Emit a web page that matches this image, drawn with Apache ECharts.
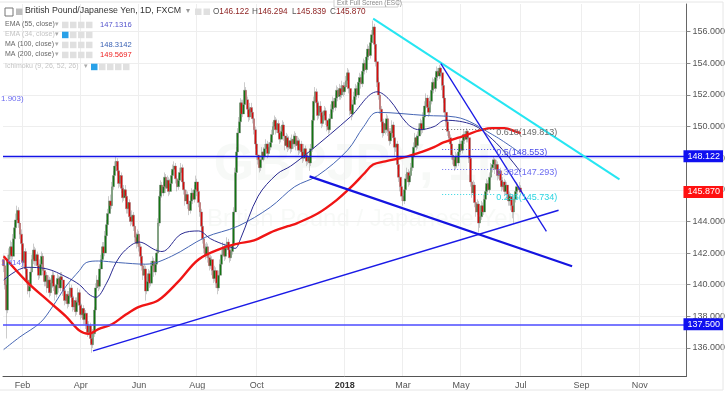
<!DOCTYPE html>
<html><head><meta charset="utf-8">
<script src="https://cdn.jsdelivr.net/npm/echarts@6/dist/echarts.min.js"></script>
<style>html,body{margin:0;padding:0;background:#fff}#c{width:728px;height:393px}</style>
</head><body><div id="c"></div><script>
// ---------- DATA ----------
const firstDay = '2017-01-12';
const lastDay = '2018-12-19';
const tickMonths = ['2017-02','2017-04','2017-06','2017-08','2017-10','2018-01','2018-03','2018-05','2018-07','2018-09','2018-11'];
const tickLabels = ['Feb','Apr','Jun','Aug','Oct','2018','Mar','May','Jul','Sep','Nov'];
const yTicks = [136,138,140,142,144,146,148,150,152,154,156];
const firstOpen = 141.6;
const closes = [
141.2,140.0,138.4,141.6,141.9,142.4,141.8,142.9,143.6,144.1,
144.7,143.9,143.2,142.6,141.4,142.1,141.0,140.3,139.6,139.9,
140.8,141.6,142.2,141.5,141.9,141.2,140.6,141.3,141.8,140.9,
140.2,140.6,139.8,140.3,139.5,140.1,140.6,139.9,139.4,140.0,
140.4,139.8,140.5,140.3,139.6,139.0,139.4,138.8,139.3,139.8,
139.2,138.6,139.0,138.3,138.9,139.5,138.7,138.1,138.5,137.8,
138.2,137.5,137.0,137.4,136.6,136.2,136.9,138.4,139.8,140.3,
139.9,141.0,141.6,142.4,142.0,143.1,143.8,144.5,145.3,145.0,
146.2,146.9,147.5,147.8,147.2,146.4,146.9,146.1,145.5,146.0,
145.6,144.8,145.2,144.3,144.0,144.4,143.7,143.0,142.6,143.2,
142.4,141.8,141.2,140.6,141.0,139.6,140.2,140.7,140.1,141.2,
141.5,140.8,141.3,142.0,143.9,145.6,146.3,145.8,146.2,146.8,
146.1,146.6,145.9,146.4,146.9,147.3,147.5,146.7,146.2,146.6,
147.1,147.4,146.5,146.0,145.3,145.7,145.1,144.7,145.3,145.8,
145.4,146.0,146.5,145.9,145.2,144.6,143.7,142.9,142.3,141.9,
142.4,141.7,141.2,141.6,140.9,140.4,140.9,140.1,139.8,140.6,
141.3,141.9,142.4,141.8,142.3,142.7,142.2,141.7,142.1,142.5,
144.6,147.1,148.4,149.6,150.3,151.5,150.8,151.4,152.3,151.7,
151.1,150.6,151.2,150.9,150.5,149.8,148.9,148.2,147.9,147.4,
147.9,148.4,148.1,148.6,148.9,148.3,148.7,149.0,149.5,150.0,
150.4,149.8,150.2,149.6,149.2,149.7,150.1,149.4,148.8,149.3,
148.7,149.1,148.6,149.2,148.9,149.4,148.8,149.1,148.5,148.9,
148.4,148.0,148.6,148.2,147.8,148.1,147.7,148.6,150.4,151.6,
152.2,151.5,150.7,151.3,150.9,150.2,150.7,151.0,150.4,150.0,
149.8,150.5,151.1,151.6,151.2,151.8,152.3,151.9,152.4,152.0,
152.6,152.2,152.5,152.9,153.4,152.4,151.0,150.8,151.4,151.9,
152.4,152.0,152.8,153.1,152.7,153.5,154.0,153.6,154.4,154.9,
154.5,155.3,155.8,156.3,155.2,154.1,152.8,152.0,151.1,150.3,
149.6,150.2,149.8,150.5,149.7,149.1,149.6,150.1,149.3,148.7,
148.9,147.6,146.8,146.2,145.6,145.3,146.0,146.7,147.1,146.5,
146.9,147.4,148.1,148.7,149.3,148.8,149.4,149.9,150.2,149.8,
150.6,151.3,151.8,151.2,150.9,151.6,152.3,152.8,152.4,153.1,
153.5,153.2,153.7,153.4,152.6,151.8,150.9,150.3,149.7,149.3,
148.9,148.2,147.9,147.5,148.1,147.7,148.4,148.9,148.5,149.1,
149.5,149.2,149.7,149.3,148.0,146.5,145.8,146.3,145.2,144.6,
145.1,143.9,144.3,145.0,144.6,145.4,145.9,146.4,146.0,146.8,
147.4,147.6,147.9,147.3,147.6,146.9,147.2,146.6,146.2,146.5,
145.9,146.3,145.7,145.3,145.6,145.0,144.6,145.4,145.9,146.2,
146.0,146.122,145.870];
const highs = [
141.9,141.5,140.3,141.9,142.3,142.8,142.7,143.2,143.9,144.5,
145.0,144.9,144.2,143.5,142.9,142.5,142.3,141.3,140.6,140.3,
141.1,141.9,142.6,142.4,142.3,142.1,141.4,141.6,142.1,142.0,
141.1,140.9,140.8,140.6,140.5,140.4,140.9,140.8,140.1,140.3,
140.7,140.6,140.8,140.8,140.5,139.8,139.7,139.6,139.6,140.1,
140.0,139.4,139.3,139.2,139.2,139.8,139.7,138.9,138.8,138.7,
138.5,138.4,137.7,137.7,137.6,136.9,137.2,138.6,140.1,140.6,
140.5,141.3,141.9,142.7,142.7,143.4,144.1,144.8,145.6,145.7,
146.5,147.2,147.8,148.1,148.0,147.4,147.2,147.1,146.3,146.3,
146.3,145.8,145.5,145.4,144.6,144.7,144.6,143.9,143.3,143.5,
143.4,142.6,142.0,141.4,141.3,141.2,140.5,141.0,140.9,141.5,
141.8,141.7,141.6,142.3,144.2,145.9,146.6,146.5,146.5,147.1,
147.0,146.9,146.8,146.7,147.2,147.6,147.8,147.7,146.9,146.9,
147.4,147.7,147.6,146.7,146.2,146.0,145.9,145.3,145.6,146.1,
146.0,146.3,146.9,146.7,146.1,145.4,144.8,143.9,143.1,142.6,
142.7,142.6,141.9,141.9,141.8,141.1,141.2,141.1,140.3,140.9,
141.6,142.2,142.7,142.6,142.6,143.0,142.9,142.4,142.4,142.8,
144.9,147.4,148.7,149.9,150.6,151.8,151.7,151.7,152.8,152.5,
151.9,151.3,151.5,151.5,151.1,150.7,150.0,149.1,148.5,148.1,
148.2,148.7,148.7,148.9,149.2,149.1,149.0,149.3,149.8,150.3,
150.7,150.6,150.5,150.4,149.8,150.0,150.4,150.3,149.6,149.6,
149.5,149.4,149.3,149.5,149.5,149.7,149.6,149.4,149.3,149.2,
149.1,148.6,148.9,148.8,148.4,148.4,148.3,148.9,150.7,151.9,
152.5,152.4,151.7,151.6,151.6,151.1,151.0,151.3,151.2,150.6,
150.3,150.8,151.4,151.9,151.8,152.1,152.6,152.5,152.7,152.6,
152.9,152.8,152.8,153.2,153.7,153.6,152.6,151.3,151.7,152.2,
152.7,152.6,153.1,153.4,153.3,153.8,154.3,154.2,154.7,155.2,
155.1,155.6,156.1,156.7,156.5,155.4,154.3,153.1,152.2,151.3,
150.5,150.5,150.4,150.8,150.7,149.9,149.9,150.4,150.3,149.5,
149.2,149.1,147.8,147.0,146.4,145.8,146.3,147.0,147.4,147.3,
147.2,147.7,148.4,149.0,149.6,149.5,149.7,150.2,150.5,150.4,
150.9,151.6,152.1,152.0,151.4,151.9,152.6,153.1,153.0,153.4,
153.8,153.7,153.9,153.8,153.6,152.8,152.0,151.1,150.5,149.9,
149.5,149.1,148.4,148.1,148.4,148.3,148.7,149.2,149.1,149.4,
149.8,149.7,149.9,149.8,149.5,148.2,146.7,146.6,146.5,145.4,
145.4,145.3,144.6,145.3,145.2,145.7,146.2,146.7,146.6,147.1,
147.7,147.9,148.1,148.0,147.9,147.8,147.5,147.4,146.8,146.8,
146.7,146.6,146.5,145.9,145.9,145.8,145.2,145.7,146.2,146.5,
146.4,146.5,146.294];
const lows = [
140.8,139.7,136.6,138.2,141.2,141.6,141.4,141.6,142.6,143.3,
143.9,143.6,142.9,142.2,141.0,141.1,140.7,140.0,139.4,139.2,
139.7,140.5,141.3,141.2,141.2,140.9,140.3,140.4,141.0,140.6,
139.9,139.9,139.5,139.5,139.2,139.3,139.8,139.6,139.0,139.2,
139.7,139.5,139.6,139.9,139.3,138.7,138.8,138.5,138.6,139.1,
138.9,138.3,138.4,138.0,138.1,138.7,138.4,137.8,137.9,137.5,
137.5,137.2,136.7,136.8,136.3,135.7,136.0,136.7,138.2,139.5,
139.6,139.7,140.7,141.4,141.7,141.8,142.9,143.6,144.3,144.7,
144.8,146.0,146.6,147.2,146.9,146.1,146.2,145.8,145.2,145.3,
145.3,144.5,144.5,144.0,143.7,143.8,143.4,142.7,142.3,142.4,
142.1,141.5,140.9,140.3,140.4,139.0,139.4,139.9,139.8,139.9,
140.9,140.5,140.6,141.1,141.8,143.7,145.3,145.5,145.6,146.0,
145.8,145.9,145.6,145.7,146.2,146.7,147.0,146.4,145.9,146.0,
146.4,146.9,146.2,145.7,145.0,145.1,144.8,144.4,144.5,145.1,
145.1,145.2,145.8,145.6,144.9,144.3,143.4,142.6,142.0,141.6,
141.7,141.4,140.9,141.0,140.6,140.1,140.2,139.8,139.4,139.6,
140.4,141.1,141.7,141.5,141.6,142.1,141.9,141.4,141.5,141.9,
142.3,144.4,146.9,148.2,149.3,150.0,150.5,150.6,151.2,151.4,
150.8,150.3,150.4,150.6,150.2,149.5,148.6,147.9,147.6,147.1,
147.2,147.7,147.8,147.9,148.4,148.0,148.1,148.5,148.8,149.3,
149.8,149.5,149.6,149.3,148.9,149.0,149.5,149.1,148.5,148.6,
148.4,148.5,148.3,148.4,148.6,148.7,148.5,148.6,148.2,148.3,
148.1,147.7,147.8,147.9,147.5,147.6,147.2,147.5,148.4,150.2,
151.3,151.2,150.4,150.5,150.6,149.9,150.0,150.5,150.1,149.7,
149.5,149.6,150.3,150.9,150.9,151.0,151.6,151.6,151.7,151.7,
151.8,151.9,152.0,152.3,152.7,152.1,150.7,150.4,150.6,151.2,
151.7,151.7,151.8,152.6,152.4,152.5,153.3,153.3,153.4,154.2,
154.2,154.3,155.1,155.6,154.9,153.8,152.5,151.7,150.8,150.0,
149.3,149.4,149.5,149.6,149.4,148.8,148.9,149.4,149.0,148.1,
148.4,147.3,146.5,145.9,145.3,145.0,145.1,145.8,146.5,146.2,
146.3,146.7,147.2,147.9,148.5,148.5,148.6,149.2,149.7,149.5,
149.6,150.4,151.1,150.9,150.6,150.7,151.4,152.1,152.1,152.2,
152.9,152.9,153.0,153.1,152.3,151.5,150.6,150.0,149.4,149.0,
148.6,147.9,147.6,147.2,147.3,147.4,147.5,148.2,148.2,148.3,
148.9,148.9,149.0,149.0,147.7,146.2,145.5,145.6,144.9,144.3,
144.4,143.3,143.6,144.1,144.3,144.4,145.2,145.7,145.7,145.8,
146.6,147.1,147.3,147.0,147.1,146.6,146.7,146.3,145.9,146.0,
145.6,145.7,145.4,145.0,145.0,144.7,144.2,143.9,145.2,145.7,
145.7,145.8,145.839];
// moving averages: [bar index from firstDay, value]
const ema55 = [[0,140.3],[17,141.1],[32,141.0],[46,140.5],[56,140.0],[63,139.4],[68,139.2],[76,140.1],[83,141.4],[90,142.2],[100,142.7],[112,142.2],[117,142.1],[131,143.2],[144,143.4],[153,142.9],[164,142.5],[171,142.3],[175,142.9],[188,145.6],[202,147.0],[212,147.5],[227,148.5],[256,150.6],[276,152.2],[285,151.7],[298,150.2],[307,149.8],[318,150.0],[326,150.4],[347,150.1],[361,149.2],[371,148.3],[382,147.13]];
const ma100 = [[0,135.9],[12,136.7],[27,137.6],[36,138.6],[46,139.9],[56,140.9],[61,141.4],[70,141.5],[85,141.4],[105,141.3],[124,141.8],[149,143.0],[173,143.7],[197,144.9],[215,146.2],[232,146.9],[254,148.5],[266,150.0],[276,150.9],[312,150.7],[334,150.6],[361,149.5],[382,148.31]];
const ma200 = [[0,141.8],[17,140.2],[34,138.9],[46,138.0],[56,137.1],[63,136.9],[70,137.2],[80,137.5],[90,138.1],[100,138.6],[114,139.0],[129,140.2],[144,141.6],[161,142.3],[173,142.6],[185,142.8],[197,143.3],[210,143.7],[217,143.9],[232,144.5],[246,145.35],[257,146.2],[266,147.0],[273,147.6],[282,147.8],[298,148.1],[309,148.4],[318,148.7],[325,149.0],[336,149.3],[361,149.9],[370,149.9],[378,149.7],[382,149.57]];
// drawings (data coordinates: bar index, price)
const hLevels = [148.122, 137.500];
const lastPrice = 145.870;
const cyanLine = [[273,156.82],[455,146.66]];
const steepLine = [[323,153.98],[401,143.38]];
const supportLine = [[66,135.82],[410,144.71]];
const lowerLine = [[226,146.85],[420,141.17]];
const fibFrom = 324, fibTo = 364;
const fibNames = ['0.618','0.5','0.382','0.236'];
const fibValues = [149.813,148.553,147.293,145.734];
const legendVals = {ema55:'147.1316', ma100:'148.3142', ma200:'149.5697'};
const ohlcLetters = ['O','H','L','C'];
const ohlc = ['146.122','146.294','145.839','145.870'];

// ---------- BUILD ----------
const cats = [];
(function(){
  let t = Date.parse(firstDay+'T00:00:00Z'); const end = Date.parse(lastDay+'T00:00:00Z');
  while (t <= end) { const d = new Date(t); const w = d.getUTCDay(); if (w !== 0 && w !== 6) cats.push(d.toISOString().slice(0,10)); t += 86400000; }
})();
const isTick = (i) => { const m = cats[i].slice(0,7); return tickMonths.indexOf(m) >= 0 && (i === 0 || cats[i-1].slice(0,7) !== m); };
const candles = closes.map((c,i)=>[i===0?firstOpen:closes[i-1], c, lows[i], highs[i]]);

const FONT = "'Liberation Sans', Arial, sans-serif";
const fibColors = ['#6b6b6b','#4a4ae8','#6a6af0','#2ad4e0'];
const markData = [];
hLevels.forEach((v,k)=>markData.push({yAxis:v, lineStyle:{color:k===0?'#1414e6':'#4b4bff', width:k===0?1.3:1.6, type:'solid'},
  label:{show:true, position:'end', distance:-3, formatter:v.toFixed(3), backgroundColor:'#1010f0', color:'#fff', fontSize:9, fontFamily:FONT, padding:[2,3,1,4]}}));
markData.push({yAxis:lastPrice, lineStyle:{color:'rgba(0,0,0,0)'},
  label:{show:true, position:'end', distance:-3, formatter:lastPrice.toFixed(3), backgroundColor:'#ff1010', color:'#fff', fontSize:9, fontFamily:FONT, padding:[2,3,1,4]}});
function seg(p, color, width){ return [{coord:p[0], lineStyle:{color, width, type:'solid'}, label:{show:false}}, {coord:p[1]}]; }
markData.push(seg(cyanLine,'#26e6f2',2));
markData.push(seg(steepLine,'#1a1ae6',1.3));
markData.push(seg(supportLine,'#1a1ae6',1.5));
markData.push(seg(lowerLine,'#1414e0',2.2));
fibValues.forEach((v,k)=>markData.push([{coord:[fibFrom,v], lineStyle:{color:fibColors[k], width:1, type:[1,2]},
  label:{show:true, position:'end', distance:0, formatter:fibNames[k]+'('+v.toFixed(3)+')', color:fibColors[k], fontSize:9, fontFamily:FONT, offset:[0,3]}},{coord:[fibTo,v]}]));

const chart = echarts.init(document.getElementById('c'), null, {renderer:'canvas'});
const hdr = [];
function txt(x,y,s,color,size,weight){ hdr.push({type:'text', left:x, top:y, style:{text:s, fill:color, font:(weight||'normal')+' '+size+'px '+FONT}, z:100}); }
function box(x,y,fill){ hdr.push({type:'rect', shape:{x:x,y:y,width:6.5,height:6.5}, style:{fill:fill||'#e0e0e0', stroke:null}, z:100}); }
hdr.push({type:'rect', shape:{x:-1,y:2,width:724,height:388}, style:{fill:null, stroke:'#e6e6e6', lineWidth:1}, z:1, silent:true});
// watermark
hdr.push({type:'text', left:'center', top:140, style:{text:'GBPJPY, 1D', fill:'rgba(60,90,60,0.04)', font:'bold 52px '+FONT}, z:0});
hdr.push({type:'text', left:'center', top:207, style:{text:'British Pound / Japanese Yen', fill:'rgba(60,90,60,0.04)', font:'24px '+FONT}, z:0});
// tooltip (drawn below the header texts)
hdr.push({type:'rect', shape:{x:334,y:-1,width:64,height:8}, style:{fill:'#fff', stroke:'#d0d0d0'}, z:90});
hdr.push({type:'text', left:337, top:-0.5, style:{text:'Exit Full Screen (ESC)', fill:'#8a8a8a', font:'6.5px '+FONT}, z:91});
// title row
hdr.push({type:'rect', shape:{x:5,y:8,width:8,height:8}, style:{fill:null, stroke:'#777', lineWidth:1}, z:100});
box(16,8.5,'#bdbdbd');
txt(25,6.5,'British Pound/Japanese Yen, 1D, FXCM','#333',8.8);
txt(186,6.5,'▾','#999',8);
box(195,8.5); box(203.5,8.5);
const ohlcX = [213,252,292,330];
ohlcLetters.forEach((l,k)=>{
  hdr.push({type:'text', left:ohlcX[k], top:7.5, z:100, style:{text:'{l|'+l+'}{v|'+ohlc[k]+'}',
    rich:{l:{fill:'#555', font:'8.2px '+FONT}, v:{fill:'#8e2323', font:'8.2px '+FONT}}}});
});
// indicator rows
const rows = [
  {y:20.5, t:'EMA (55, close)', c:'#666', v:legendVals.ema55, vc:'#5454cc', blue:false, arrow:55},
  {y:30.5, t:'EMA (34, close)', c:'#c4c4c4', v:'', vc:'', blue:true, arrow:55},
  {y:40.5, t:'MA (100, close)', c:'#666', v:legendVals.ma100, vc:'#3a62b4', blue:false, arrow:55},
  {y:50.5, t:'MA (200, close)', c:'#666', v:legendVals.ma200, vc:'#ee2020', blue:false, arrow:55},
  {y:62.5, t:'Ichimoku (9, 26, 52, 26)', c:'#c4c4c4', v:'', vc:'', blue:true, arrow:84}
];
rows.forEach(r=>{
  txt(5,r.y,r.t,r.c,7);
  txt(r.arrow,r.y,'▾','#aaa',7);
  let bx = r.arrow+7;
  if (r.blue) { box(bx,r.y+1.2,'#29a1e8'); bx += 8; }
  const n = r.blue && r.arrow===55 ? 3 : 4;
  for (let k=0;k<n;k++){ box(bx,r.y+1.2); bx += 8; }
  if (r.v) txt(100,r.y,r.v,r.vc,7.6);
});
txt(1,95,'1.903)','#6b6bf0',8);
txt(1,259,'1.514)','#6b6bf0',8);

chart.setOption({
  animation:false,
  backgroundColor:'#fff',
  grid:{left:3, right:34, top:4, bottom:17},
  xAxis:{type:'category', data:cats, boundaryGap:true,
    axisLine:{lineStyle:{color:'#555', width:1}},
    axisTick:{interval:(i)=>isTick(i), length:3, lineStyle:{color:'#555'}},
    axisLabel:{interval:(i)=>isTick(i), color:'#555', fontSize:9, fontFamily:FONT, margin:5,
      formatter:(v)=>{ const k = tickMonths.indexOf(v.slice(0,7)); const s = tickLabels[k]; return s==='2018' ? '{b|2018}' : s; },
      rich:{b:{fontWeight:'bold', fontSize:9, color:'#333', fontFamily:FONT}}},
    splitLine:{show:true, interval:(i)=>isTick(i), lineStyle:{color:'#eeeeee'}}},
  yAxis:{type:'value', position:'right', min:134.23, max:157.75, scale:true,
    axisLine:{show:true, lineStyle:{color:'#666'}},
    axisTick:{show:true, length:4, customValues:yTicks, lineStyle:{color:'#888'}},
    axisLabel:{customValues:yTicks, color:'#555', fontSize:9, fontFamily:FONT, margin:6, formatter:(v)=>v.toFixed(3)},
    splitLine:{show:true, lineStyle:{color:'#eeeeee'}}},
  graphic:hdr,
  series:[
    {type:'candlestick', data:candles, barWidth:2.3,
      itemStyle:{color:'#127512', color0:'#d80a0a', borderColor:'#7d7d7d', borderColor0:'#7d7d7d', borderWidth:0.4}},
    {type:'line', data:ma100, smooth:0.35, symbol:'none', lineStyle:{color:'#4666b4', width:1}, z:3},
    {type:'line', data:ema55, smooth:0.35, symbol:'none', lineStyle:{color:'#2b2b92', width:1}, z:3},
    {type:'line', data:ma200, smooth:0.35, symbol:'none', lineStyle:{color:'#f01515', width:2.4}, z:3,
      markLine:{silent:true, symbol:['none','none'], animation:false, data:markData}}
  ]
});
</script></body></html>
